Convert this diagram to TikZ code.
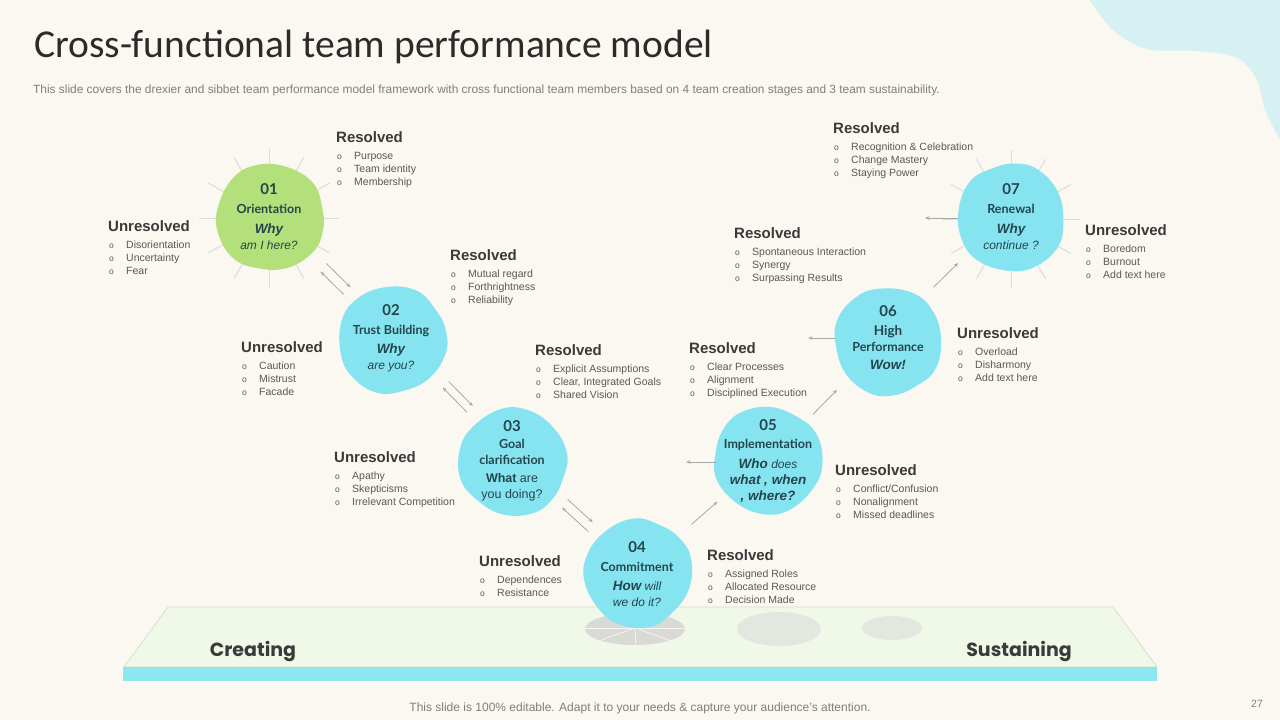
\documentclass[tikz,border=0pt]{standalone}
\usepackage{fontspec}
\setmainfont{Liberation Sans}
\newfontfamily\latof{Lato}
\newfontfamily\carlf{Carlito}
\newfontfamily\popf{Poppins}
\usetikzlibrary{calc,arrows.meta}
\definecolor{bgc}{HTML}{FBF7F1}
\definecolor{decoc}{HTML}{D5F1F1}
\definecolor{cyanb}{HTML}{86E4F1}
\definecolor{greenb}{HTML}{B4E07C}
\definecolor{titlec}{HTML}{2B2B2B}
\definecolor{subc}{HTML}{7F7F7F}
\definecolor{hdc}{HTML}{3A3A3A}
\definecolor{itc}{HTML}{595959}
\definecolor{btc}{HTML}{24454C}
\definecolor{rayc}{HTML}{DCDCDC}
\definecolor{arrc}{HTML}{A8A8A8}
\definecolor{platc}{HTML}{F0F8E7}
\definecolor{platl}{HTML}{D9DED2}
\definecolor{barc}{HTML}{8BE8F1}
\definecolor{shad}{HTML}{D9DAD6}
\definecolor{shadb}{HTML}{E4E7DF}
\definecolor{darkc}{HTML}{3A3A3A}
\newcommand\zNum{\latof\bfseries\fontsize{15}{16}\selectfont}
\newcommand\zTtl{\latof\bfseries\fontsize{12.5}{16}\selectfont}
\newcommand\zWhy{\bfseries\itshape\fontsize{13.5}{16}\selectfont}
\newcommand\zSub{\itshape\fontsize{12}{16}\selectfont}
\newcommand\zPlain{\fontsize{12.5}{16}\selectfont}
\newcommand\bi{\makebox[17pt][l]{\fontsize{8.5}{8}\selectfont o}}
\newcommand\lab[5]{%
  \node[hd, anchor=base west] (#1) at (#2,#3+5.5) {#4};
  \node[lst, anchor=base west] (#1l) at (#2+1,#3+22.5) {\begin{tabular}[t]{@{}l@{}}#5\end{tabular}};}
\newcommand\blobat[4]{%
  \fill[#3, shift={(#1,#2)}, rotate=#4] plot[smooth cycle, tension=0.7] coordinates {(-12,-52) (18,-50) (44,-34) (53,-10) (54,13) (44,35) (18,51) (-12,51) (-36,41) (-51,16) (-51,-10) (-36,-39)};}
\begin{document}
\begin{tikzpicture}[x=1pt,y=-1pt,
  hd/.style={font=\bfseries\fontsize{15}{18}\selectfont, text=hdc, inner sep=0},
  lst/.style={font=\fontsize{10.5}{13}\selectfont, text=itc, inner sep=0},
  btxt/.style={font=\fontsize{12}{16}\selectfont, text=btc, inner sep=0, align=center},
  ray/.style={draw=rayc, line width=1pt},
  arr/.style={draw=arrc, line width=0.8pt, -{Stealth[length=4.5pt,width=3.5pt]}},
]
\useasboundingbox (0,0) rectangle (1280,720);
\fill[bgc] (0,0) rectangle (1280,720);
% top-right decoration
\fill[decoc] plot[smooth, tension=0.6] coordinates {(1090,0) (1113,30) (1147,49) (1197,51) (1237,58) (1257,80) (1265,110) (1280,140)} -- (1280,0) -- cycle;
% title
\node[anchor=west, font=\carlf\fontsize{39.5}{42}\selectfont, text=titlec, inner sep=0] (title) at (34,47) {Cross-functional team performance model};
\node[anchor=west, font=\fontsize{11.9}{13}\selectfont, text=subc, inner sep=0] (subt) at (33,90) {This slide covers the drexier and sibbet team performance model framework with cross functional team members based on 4 team creation stages and 3 team sustainability.};
% platform
\filldraw[fill=platc, draw=platl, line width=0.8pt] (168,607) -- (1113,607) -- (1157,667) -- (124,667) -- cycle;
\fill[barc] (123,667) rectangle (1157,681);
\fill[shad] (635,629) ellipse [x radius=50, y radius=16];
\fill[shadb] (779,629) ellipse [x radius=42, y radius=17];
\fill[shadb] (892,628) ellipse [x radius=30, y radius=12];
\coordinate (sh) at (635,628);
\foreach \p in {(580,628),(690,628),(636,650),(593,643),(677,643)} \draw[draw=white!70!shad, line width=0.8pt] (sh) -- \p;
\node[font=\popf\bfseries\fontsize{19}{21}\selectfont, text=darkc] (cre) at (253,651) {Creating};
\node[font=\popf\bfseries\fontsize{19}{21}\selectfont, text=darkc] (sus) at (1019,651) {Sustaining};
% footer
\node[font=\fontsize{12}{14}\selectfont, text=subc] (foot) at (640,708) {This slide is 100\% editable. Adapt it to your needs \& capture your audience’s attention.};
\node[font=\fontsize{10.5}{12}\selectfont, text=subc] (pg) at (1257,704) {27};
% rays
\coordinate (c1) at (269,218);
\coordinate (c7) at (1011,219);
\foreach \a in {0,30,...,330} {
  \draw[ray] ($(c1)+(\a:40)$) -- ($(c1)+(\a:70)$);
  \draw[ray] ($(c7)+(\a:40)$) -- ($(c7)+(\a:69)$);
}
% blobs
\blobat{269}{217}{greenb}{0}
\blobat{391}{340}{cyanb}{25}
\blobat{512}{461}{cyanb}{-30}
\blobat{637}{574}{cyanb}{55}
\blobat{769}{461}{cyanb}{160}
\blobat{888}{340}{cyanb}{-70}
\blobat{1011}{219}{cyanb}{100}
% blob texts
\node[btxt] (b1) at (269,219) {\begin{tabular}{@{}c@{}}{\zNum 01}\\[3pt]{\zTtl Orientation}\\[4pt]{\zWhy Why}\\{\zSub am I here?}\end{tabular}};
\node[btxt] (b2) at (391,339) {\begin{tabular}{@{}c@{}}{\zNum 02}\\[3pt]{\zTtl Trust Building}\\[3pt]{\zWhy Why}\\{\zSub are you?}\end{tabular}};
\node[btxt] (b3) at (512,462) {\begin{tabular}{@{}c@{}}{\zNum 03}\\[1pt]{\zTtl Goal}\\{\zTtl clarification}\\[2pt]{\bfseries\zPlain What} {\zPlain are}\\{\zPlain you doing?}\end{tabular}};
\node[btxt] (b4) at (637,576) {\begin{tabular}{@{}c@{}}{\zNum 04}\\[3pt]{\zTtl Commitment}\\[3pt]{\zWhy How} {\zSub will}\\{\zSub we do it?}\end{tabular}};
\node[btxt] (b5) at (768,462) {\begin{tabular}{@{}c@{}}{\zNum 05}\\[2pt]{\zTtl Implementation}\\[4pt]{\zWhy Who} {\zSub does}\\{\zWhy what , when}\\{\zWhy , where?}\end{tabular}};
\node[btxt] (b6) at (888,340) {\begin{tabular}{@{}c@{}}{\zNum 06}\\[3pt]{\zTtl\fontsize{13.5}{16}\selectfont High}\\{\zTtl Performance}\\[2pt]{\zWhy Wow!}\end{tabular}};
\node[btxt] (b7) at (1011,219) {\begin{tabular}{@{}c@{}}{\zNum 07}\\[3pt]{\zTtl Renewal}\\[4pt]{\zWhy Why}\\{\zSub continue ?}\end{tabular}};
% labels
\lab{r1}{336}{137}{Resolved}{\bi Purpose\\ \bi Team identity\\ \bi Membership}
\lab{u1}{108}{226}{Unresolved}{\bi Disorientation\\ \bi Uncertainty\\ \bi Fear}
\lab{r2}{450}{255}{Resolved}{\bi Mutual regard\\ \bi Forthrightness\\ \bi Reliability}
\lab{u2}{241}{347}{Unresolved}{\bi Caution\\ \bi Mistrust\\ \bi Facade}
\lab{r3}{535}{350}{Resolved}{\bi Explicit Assumptions\\ \bi Clear, Integrated Goals\\ \bi Shared Vision}
\lab{u3}{334}{457}{Unresolved}{\bi Apathy\\ \bi Skepticisms\\ \bi Irrelevant Competition}
\lab{u4}{479}{561}{Unresolved}{\bi Dependences\\ \bi Resistance}
\lab{r4}{707}{555}{Resolved}{\bi Assigned Roles\\ \bi Allocated Resource\\ \bi Decision Made}
\lab{r5}{689}{348}{Resolved}{\bi Clear Processes\\ \bi Alignment\\ \bi Disciplined Execution}
\lab{u5}{835}{470}{Unresolved}{\bi Conflict/Confusion\\ \bi Nonalignment\\ \bi Missed deadlines}
\lab{r6}{734}{233}{Resolved}{\bi Spontaneous Interaction\\ \bi Synergy\\ \bi Surpassing Results}
\lab{u6}{957}{333}{Unresolved}{\bi Overload\\ \bi Disharmony\\ \bi Add text here}
\lab{r7}{833}{128}{Resolved}{\bi Recognition \& Celebration\\ \bi Change Mastery\\ \bi Staying Power}
\lab{u7}{1085}{230}{Unresolved}{\bi Boredom\\ \bi Burnout\\ \bi Add text here}
% arrows
\draw[arr] ($(b1)!0.42!(b2)+(6,-6)$) -- ($(b1)!0.62!(b2)+(6,-6)$);
\draw[arr] ($(b1)!0.62!(b2)+(-1,1)$) -- ($(b1)!0.43!(b2)+(-1,1)$);
\draw[arr] ($(b2)!0.41!(b3)+(8,-8)$) -- ($(b2)!0.61!(b3)+(8,-8)$);
\draw[arr] ($(b2)!0.61!(b3)+(2,-2)$) -- ($(b2)!0.41!(b3)+(2,-2)$);
\draw[arr] ($(b3)!0.39!(b4)+(7,-7)$) -- ($(b3)!0.59!(b4)+(7,-7)$);
\draw[arr] ($(b3)!0.61!(b4)$) -- ($(b3)!0.40!(b4)$);
\draw[arr] ($(b4)!0.40!(b5)+(2,-6)$) -- ($(b4)!0.60!(b5)+(2,-6)$);
\draw[arr] ($(b5)!52pt!(b3)$) -- ($(b5)!82pt!(b3)$);
\draw[arr] ($(b5)!0.375!(b6)+(0,-2)$) -- ($(b5)!0.575!(b6)+(0,-2)$);
\draw[arr] ($(b6)+(-53,-2)$) -- ($(b6)+(-80,-2)$);
\draw[arr] ($(b6)!0.37!(b7)+(0,-8)$) -- ($(b6)!0.57!(b7)+(0,-8)$);
\draw[arr] ($(b7)+(-53,-1)$) -- ($(b7)+(-86,-1)$);
\end{tikzpicture}
\end{document}
